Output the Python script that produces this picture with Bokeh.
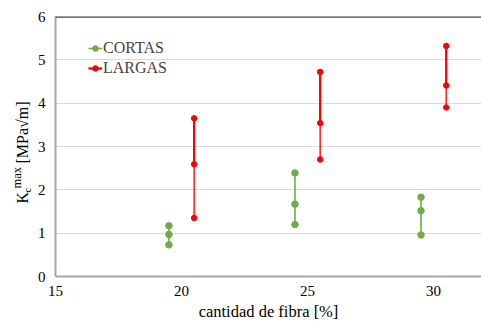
import math
from bokeh.plotting import figure
from bokeh.layouts import row
from bokeh.models import Range1d, FixedTicker, Span, Legend
from bokeh.core.properties import value
from bokeh.embed import file_html
from bokeh.resources import INLINE

# --- data ---
cortas_x = [19.5, 24.5, 29.5]
cortas_min = [0.73, 1.20, 0.96]
cortas_mid = [0.97, 1.67, 1.52]
cortas_max = [1.17, 2.39, 1.83]

largas_x = [20.5, 25.5, 30.5]
largas_min = [1.35, 2.70, 3.90]
largas_mid = [2.59, 3.54, 4.41]
largas_max = [3.65, 4.72, 5.32]

x_ticks = [15, 20, 25, 30]
y_ticks = [0, 1, 2, 3, 4, 5, 6]

series_names = ["CORTAS", "LARGAS"]
x_title = "cantidad de fibra [%]"
y_title_parts = ["K", "c", "max", "[MPa√m]"]

GREEN = "#70AD47"
RED = "#FF0000"
FONT = "'Liberation Serif', 'Times New Roman', serif"

H = 325
LEFT_W = 33
FRAME_TOP = 16
FRAME_BOTTOM = 276

# ---- main chart ----
p = figure(width=481 - LEFT_W, height=H, output_backend="svg", toolbar_location=None,
           x_range=Range1d(15, 31.9), y_range=Range1d(0, 6),
           min_border_left=22, min_border_right=0, min_border_top=FRAME_TOP,
           min_border_bottom=H - FRAME_BOTTOM)
p.outline_line_color = None
p.background_fill_color = "white"
p.border_fill_color = "white"

p.xgrid.grid_line_color = None
p.ygrid.grid_line_color = "#D9D9D9"
p.ygrid.grid_line_width = 1
p.ygrid.ticker = FixedTicker(ticks=y_ticks[1:-1])

p.xaxis.ticker = FixedTicker(ticks=x_ticks)
p.yaxis.ticker = FixedTicker(ticks=y_ticks)
for ax in (p.xaxis[0], p.yaxis[0]):
    ax.major_tick_line_color = None
    ax.minor_tick_line_color = None
    ax.major_tick_out = 0
    ax.major_tick_in = 0
    ax.minor_tick_out = 0
    ax.minor_tick_in = 0
    ax.axis_line_color = "#A6A6A6"
    ax.axis_line_width = 2
    ax.major_label_text_font = FONT
    ax.major_label_text_font_size = "15px"
    ax.major_label_text_color = "#000000"
p.xaxis[0].major_label_standoff = 9
p.yaxis[0].major_label_standoff = 10
p.xaxis[0].axis_label = x_title
p.xaxis[0].axis_label_text_font = FONT
p.xaxis[0].axis_label_text_font_size = "16.5px"
p.xaxis[0].axis_label_text_font_style = "normal"
p.xaxis[0].axis_label_text_color = "#000000"
p.xaxis[0].axis_label_standoff = 3

p.add_layout(Span(location=6, dimension="width", line_color="#404040", line_width=2.5))

# series
r1 = p.segment(x0=cortas_x, y0=cortas_min, x1=cortas_x, y1=cortas_max,
               line_color=GREEN, line_width=1.6)
r2 = p.scatter(cortas_x * 3, cortas_min + cortas_mid + cortas_max, size=6.5,
               marker="circle", fill_color=GREEN, line_color=GREEN)
r3a = p.segment(x0=largas_x, y0=largas_min, x1=largas_x, y1=largas_mid,
                line_color=RED, line_width=1.6, line_alpha=0.85)
r3 = p.segment(x0=largas_x, y0=largas_mid, x1=largas_x, y1=largas_max,
               line_color=RED, line_width=2.3)
r4 = p.scatter(largas_x * 3, largas_min + largas_mid + largas_max, size=5.5,
               marker="circle", fill_color=RED, line_color=RED)

legend = Legend(items=[(series_names[0], [r1, r2]), (series_names[1], [r3, r4])],
                location=(33, 198), padding=0, margin=0, spacing=0,
                label_text_font=FONT, label_text_font_size="16px",
                label_height=20, glyph_height=20, glyph_width=14, label_standoff=1,
                border_line_color=None, background_fill_alpha=0)
p.add_layout(legend)

# ---- left strip holding the y-axis title (frame aligned with the main frame) ----
q = figure(width=LEFT_W, height=H, output_backend="svg", toolbar_location=None,
           x_range=Range1d(0, LEFT_W), y_range=Range1d(H - FRAME_BOTTOM, H - FRAME_TOP),
           x_axis_type=None, y_axis_type=None,
           min_border=0, min_border_left=0, min_border_right=0,
           min_border_top=FRAME_TOP, min_border_bottom=H - FRAME_BOTTOM)
q.grid.visible = False
q.outline_line_color = None
q.border_fill_color = "white"
q.background_fill_color = "white"

ang = math.pi / 2
# positions in the strip's pixel space (x from left, y from bottom of the page)
q.text(x=[22], y=[H - 203], text=[y_title_parts[0]], angle=ang,
       text_font=value(FONT), text_font_size="16px", text_baseline="middle",
       text_align="left", text_color="black")
q.text(x=[27.2], y=[H - 192], text=[y_title_parts[1]], angle=ang,
       text_font=value(FONT), text_font_size="10.5px", text_baseline="middle",
       text_align="left", text_color="black")
q.text(x=[16.6], y=[H - 188], text=[y_title_parts[2]], angle=ang,
       text_font=value(FONT), text_font_size="12.5px", text_baseline="middle",
       text_align="left", text_color="black")
q.text(x=[22], y=[H - 163], text=[y_title_parts[3]], angle=ang,
       text_font=value(FONT), text_font_size="16px", text_baseline="middle",
       text_align="left", text_color="black")

layout = row(q, p, spacing=0)
open("out.html", "w").write(file_html(layout, INLINE))
